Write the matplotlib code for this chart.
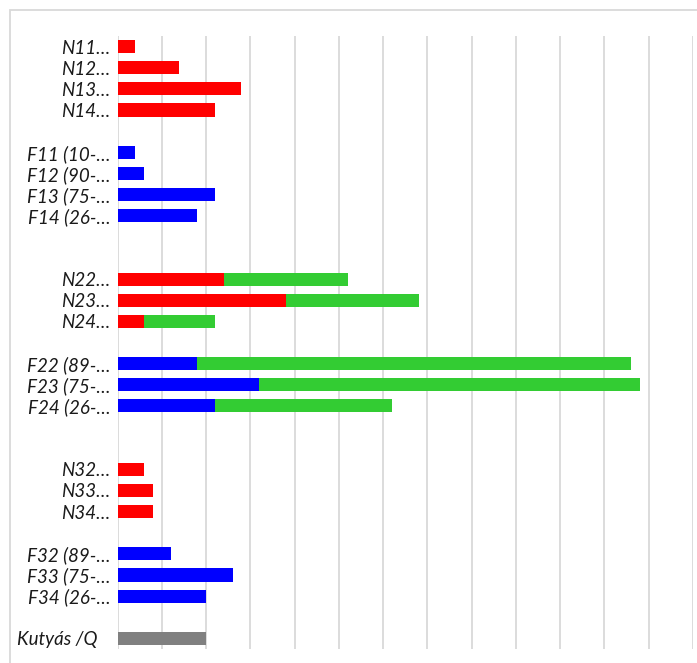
import matplotlib
matplotlib.use("Agg")
import matplotlib.pyplot as plt
from matplotlib.patches import Rectangle

# row labels (empty strings are the blank spacer rows)
labels = ["N11…", "N12…", "N13…", "N14…", "",
          "F11 (10-…", "F12 (90-…", "F13 (75-…", "F14 (26-…", "", "",
          "N22…", "N23…", "N24…", "",
          "F22 (89-…", "F23 (75-…", "F24 (26-…", "", "",
          "N32…", "N33…", "N34…", "",
          "F32 (89-…", "F33 (75-…", "F34 (26-…", "",
          "Kutyás /Q   "]

# first segment values and its colour group
first = [2, 7, 14, 11, 0,
         2, 3, 11, 9, 0, 0,
         12, 19, 3, 0,
         9, 16, 11, 0, 0,
         3, 4, 4, 0,
         6, 13, 10, 0,
         10]
kind = ["N", "N", "N", "N", "",
        "F", "F", "F", "F", "", "",
        "N", "N", "N", "",
        "F", "F", "F", "", "",
        "N", "N", "N", "",
        "F", "F", "F", "",
        "Q"]
# second (green) segment
second = [0, 0, 0, 0, 0,
          0, 0, 0, 0, 0, 0,
          14, 15, 8, 0,
          49, 43, 20, 0, 0,
          0, 0, 0, 0,
          0, 0, 0, 0,
          0]

colors = {"N": "#ff0000", "F": "#0000ff", "Q": "#808080", "": "white"}

fig = plt.figure(figsize=(6.97, 6.63), dpi=100)
ax = fig.add_axes([117.5 / 697, 1 - 649 / 663, (693 - 117.5) / 697, (649 - 36) / 663])

y = list(range(len(labels)))
ax.barh(y, first, height=0.62, color=[colors[k] for k in kind], zorder=3)
ax.barh(y, second, left=first, height=0.62, color="#33cc33", zorder=3)

ax.set_xlim(0, 65)
ax.set_ylim(len(labels) - 0.5, -0.5)
ax.set_xticks(range(0, 66, 5))
ax.set_xticklabels([])
ax.set_yticks(y)
ax.set_yticklabels(labels, family="Lato", style="italic", fontsize=13.5, color="#1a1a1a")
ax.tick_params(length=0, pad=5)
ax.grid(axis="x", color="#d9d9d9", linewidth=1.3, zorder=0)
for s in ax.spines.values():
    s.set_visible(False)

# outer chart border (only left and top are inside the image)
fig.patches.append(Rectangle((9.5 / 697, -0.2), 1.2, 1.2 - 10 / 663,
                             transform=fig.transFigure, fill=False,
                             edgecolor="#d9d9d9", linewidth=1.3))

fig.savefig("out.png", dpi=100)
